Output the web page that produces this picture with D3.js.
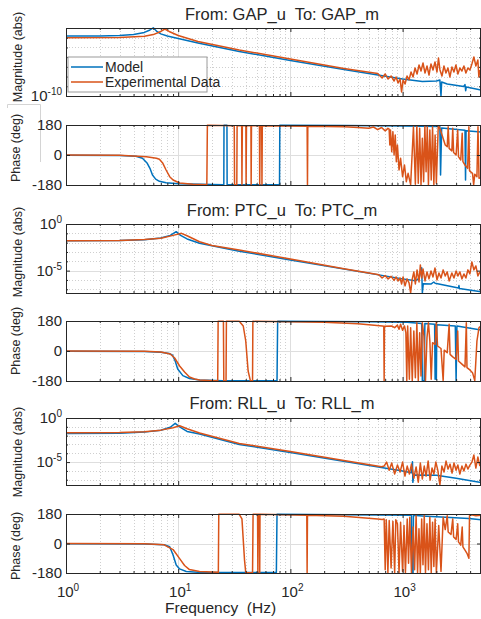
<!DOCTYPE html>
<meta charset="utf-8">
<style>
body { margin: 0; background: #fff; }
text { font-family: "Liberation Sans", Arial, sans-serif; fill: #262626; white-space: pre; }
</style>
<body>
<script src="https://d3js.org/d3.v7.min.js"></script>
<script>

// ---- data: [frequency (Hz), value] ----
var gapMagModel = [[1,1.5e-4],[2,1.5e-4],[3,1.7e-4],[4,2.1e-4],[5,3.5e-4],[5.6,6.3e-4],[6.0,1.05e-3],[6.4,4.9e-4],[7,2.5e-4],[8,1.5e-4],[10,8.3e-5],[15,2.9e-5],[35,3.8e-6],[100,4.6e-7],[300,5.4e-8],[1000,5.6e-9],[1500,3.1e-9],[2000,3.5e-9],[2150,4.5e-9],[2200,1e-10],[2230,2.8e-9],[2500,1.7e-9],[3500,9.5e-10],[3600,1.5e-9],[3650,3.5e-10],[3700,8.5e-10],[5000,4.2e-10]];
var gapMagExp = [[1,1.0e-4],[3,1.05e-4],[5,1.4e-4],[6,2.1e-4],[7,4.4e-4],[7.6,7.9e-4],[8.3,4.4e-4],[10,1.7e-4],[15,4.1e-5],[35,5.5e-6],[100,6.5e-7],[300,6.8e-8],[600,2.1e-8],
  [618,1.45e-8],[657,7.1e-9],[699,1.85e-8],[743,5.6e-9],[790,1.15e-8],[840,3.5e-9],[875,9.1e-9],[912,2.2e-9],[950,5.6e-9],[980,2.6e-10],[1010,4.5e-9],[1052,1.7e-9],[1096,1.15e-8],[1142,4.5e-9],[1190,2.95e-8],[1240,9.1e-9],[1292,7.6e-8],[1346,1.85e-8],[1402,1.55e-7],[1460,3.7e-8],[1521,2.5e-7],[1585,2.3e-8],[1651,1.23e-7],[1720,1.45e-8],[1792,2.0e-7],[1867,4.8e-8],[1945,3.2e-7],[2026,2.95e-8],[2089,8.1e-7],[2154,4.8e-8],[2244,1.15e-8],[2338,1.23e-7],[2436,2.3e-8],[2537,7.6e-8],[2643,9.1e-9],[2754,9.8e-8],[2869,2.95e-8],[2989,1.55e-7],[3114,1.85e-8],[3244,7.6e-8],[3380,3.7e-8],[3521,1.23e-7],[3668,2.3e-8],[3821,7.6e-8],[3981,4.8e-8],[4147,2.0e-7],[4320,1.05e-6],[4501,1.23e-7],[4689,5.1e-7],[4786,9.1e-9],[4885,4.8e-8]];

var gapPhModel = [[1,-1],[3,-3],[4.2,-8],[4.8,-20],[5.3,-50],[5.6,-80],[5.9,-120],[6.3,-145],[6.8,-158],[7.8,-167],[10,-173],[20,-177],[25.5,-178],[25.6,179],[27.2,179],[27.3,-179],[80,-179],[80.5,179],[300,177],[1000,174],[2150,171],[2180,-120],[2230,162],[3600,148],[3640,-150],[3680,146],[5000,138]];
var gapPhExp = [[1,0],[3,-2],[5.2,-10],[6.4,-20],[6.8,-26],[7.3,-50],[7.8,-90],[8.4,-130],[9,-150],[10.3,-168],[13.5,-176],[18,-178],[18.2,179],[31.6,176],[31.8,-179],[33.3,-179],[33.5,176],[36.8,176],[37,-178],[37.3,176],[40.1,176],[40.3,-178],[40.6,176],[44.5,176],[44.7,-178],[45,176],[53,176],[53.3,-178],[53.8,176],[55.5,176],[55.8,-178],[56.2,176],[141,172],[142,-178],[143,172],
  [300,170],[400,165],[500,160],[550,168],[600,152],[650,165],[700,145],[740,160],
  [759,155],[770,60],[780,150],[800,20],[820,140],[840,0],[860,120],[880,-40],[900,60],[930,-90],[960,-20],[1000,-130],[1040,-60],[1080,-160],[1120,-110],[1180,-178],
  [1250,170],[1300,-175],[1340,175],[1380,-170],[1420,160],[1460,-178],[1500,100],[1540,-160],[1580,175],[1620,-100],[1660,170],[1700,-178],[1750,150],[1800,-150],[1850,170],[1900,-178],[1950,120],[2000,-170],[2080,175],[2150,160],
  [2400,60],[2500,50],[2550,170],[2600,40],[2750,25],[2800,160],[2850,15],[3000,0],[3100,150],[3150,-10],[3300,-30],[3400,130],[3450,-40],[3600,-60],[3800,-80],[3900,170],[3950,-95],[4200,-110],[4300,-178],[4400,-115],[4600,-130],[4700,170],[4800,-140],[5000,-135]];

var ptcMagModel = [[1,0.016],[3,0.017],[5,0.021],[7,0.032],[8.5,0.06],[9.6,0.15],[10.5,0.06],[12,0.025],[15.5,8.5e-3],[35,1.2e-3],[100,1.4e-4],[1000,1.3e-6],[1300,8e-7],[1400,1.5e-6],[1480,2e-5],[1500,4e-8],[1530,4e-7],[1800,3.7e-7],[1900,6e-7],[1950,4.5e-7],[3150,1.4e-7],[3180,2.5e-7],[3210,1.2e-7],[5000,5.5e-8]];
var ptcMagExp = [[1,0.016],[3,0.017],[5,0.022],[7,0.03],[9,0.06],[10.7,0.1],[12,0.055],[15.5,0.0126],[20,5e-3],[35,1.6e-3],[100,1.8e-4],[300,1.6e-5],[600,3.8e-6],
  [618,3.4e-6],[657,1.6e-6],[699,3e-6],[743,1.3e-6],[790,2.4e-6],[840,9e-7],[875,2.1e-6],[912,7.8e-7],[950,1.6e-6],[980,3.7e-7],[1010,2.1e-6],[1052,2.3e-7],[1096,1.3e-6],[1142,4.8e-7],[1180,4e-8],[1215,1e-6],[1260,7.2e-6],[1300,3.7e-7],[1346,1.2e-5],[1402,6.1e-7],[1440,4.1e-5],[1480,1.6e-6],[1521,1.5e-5],[1585,7.8e-7],[1651,7.2e-6],[1720,1.3e-6],[1792,9.1e-6],[1867,2.1e-6],[1945,1.9e-5],[2026,1e-6],[2110,5.6e-6],[2200,1.6e-6],[2300,1.2e-5],[2400,2.7e-6],[2500,7.2e-6],[2600,7.8e-7],[2750,5.6e-6],[2870,1.6e-6],[3000,9.1e-6],[3114,2.7e-6],[3244,7.2e-6],[3380,1.3e-6],[3521,4.4e-6],[3668,1.6e-6],[3821,1.2e-5],[3981,4.4e-6],[4147,8.5e-5],[4320,1.2e-5],[4501,3.2e-5],[4689,2.7e-6],[4885,7.2e-6]];

var ptcPhModel = [[1,-1],[5,-3],[7,-8],[8.3,-15],[8.9,-25],[9.4,-60],[9.9,-108],[11,-148],[12.6,-165],[15.5,-174],[25,-178],[76,-178],[77,179],[500,176],[1100,172],[1480,165],[1500,-178],[1560,-178],[1580,165],[1930,160],[1950,-170],[1980,160],[2000,-170],[2020,158],[2950,150],[3000,-178],[3050,150],[5000,126]];
var ptcPhExp = [[1,0],[5,-2],[7,-6],[8.5,-18],[9.3,-42],[10.3,-90],[11.4,-126],[12.6,-156],[14,-168],[15.5,-174],[21,-178],[22.5,-178],[22.7,178],[25.3,178],[25.5,-178],[26.7,-178],[26.9,178],[35,178],[38,150],[40,60],[42,-120],[44,-178],[46,-178],[46.3,178],[200,172],[400,164],[660,150],[680,148],[685,-178],[690,148],
  [800,150],[850,140],[900,155],[930,130],[960,160],[1000,125],[1040,150],[1070,110],[1090,-178],[1110,150],[1150,-170],[1180,140],[1220,-178],[1260,120],[1300,-160],[1340,170],[1380,-178],[1420,110],[1460,-150],[1500,170],[1550,90],[1600,-178],[1650,80],[1700,170],[1750,60],[1800,-170],[1850,50],[1950,40],[2000,175],[2050,30],[2200,15],[2300,-178],[2350,5],[2500,-10],[2600,160],[2650,-20],[2800,-35],[3000,-50],[3100,120],[3150,-60],[3400,-80],[3600,-95],[3700,170],[3750,-100],[4000,-115],[4200,-130],[4400,-178],[4600,60],[4800,140],[5000,150]];

var rllMagModel = [[1,0.018],[3,0.019],[5,0.025],[7,0.04],[8.5,0.09],[9.4,0.25],[10.3,0.1],[12,0.03],[15.5,0.015],[35,1.0e-3],[100,1.2e-4],[1000,9.5e-7],[1200,6e-7],[1225,1.1e-5],[1235,5e-8],[1260,3.4e-7],[2000,3.3e-7],[3000,1.5e-7],[5000,4.9e-8]];
var rllMagExp = [[1,0.021],[3,0.022],[5,0.028],[7,0.042],[9,0.08],[10.3,0.13],[12,0.06],[15.5,0.02],[35,1.3e-3],[100,1.6e-4],[300,1.5e-5],[650,3e-6],
  [685,3.5e-6],[720,1e-5],[760,1.2e-6],[800,7.7e-6],[850,4.4e-7],[900,4.6e-6],[950,7.3e-7],[1000,1e-5],[1050,2.6e-7],[1100,3.5e-6],[1150,4.4e-7],[1200,5.9e-6],[1260,1.5e-7],[1320,2.8e-6],[1380,5.3e-8],[1440,7.7e-6],[1500,1.2e-7],[1560,3.5e-6],[1620,2.6e-7],[1690,1.3e-5],[1760,9e-8],[1830,2.1e-6],[1900,4.4e-7],[1980,1e-5],[2060,1.2e-6],[2150,2.5e-8],[2240,3.5e-6],[2340,7.3e-7],[2440,1.3e-5],[2540,1.6e-6],[2650,5.9e-6],[2760,5.7e-7],[2870,7.7e-6],[3000,1.2e-6],[3110,4.6e-6],[3240,4.4e-7],[3380,3.5e-6],[3520,9.5e-7],[3670,5.9e-6],[3820,1.6e-6],[3980,4.6e-6],[4150,1e-5],[4320,6.3e-5],[4500,2.1e-6],[4690,3.7e-5],[4885,3.5e-6]];

var rllPhModel = [[1,-1],[5,-3],[7.5,-8],[8.4,-20],[9,-70],[9.6,-131],[10.3,-155],[11.8,-171],[15,-176],[75,-177],[76,179],[1200,172],[1210,-178],[1240,-178],[1250,172],[1500,168],[3900,152],[5000,145]];
var rllPhExp = [[1,0],[5,-2],[7.5,-8],[9,-37],[10.3,-92],[11.4,-134],[12.6,-159],[15.5,-171],[22.8,-176],[23,179],[35,178],[37,150],[39,-100],[40,-178],[46,-178],[46.5,179],[51,178],[51.3,-178],[51.6,178],[53,178],[53.3,-178],[53.6,178],[140,172],[141,-178],[142,172],[300,166],[600,150],[660,146],
  [685,150],[700,-160],[715,145],[740,-178],[760,140],[790,-150],[820,135],[850,-178],[870,145],[900,120],[930,-178],[960,130],[1000,-170],[1030,110],[1060,-178],[1100,150],[1130,-120],[1160,160],[1200,-178],[1240,100],[1280,-160],[1320,170],[1360,-178],[1400,90],[1440,-178],[1480,150],[1520,-130],[1560,170],[1600,-178],[1650,120],[1700,-160],[1750,160],[1800,-178],[1850,130],[1900,-140],[1950,150],[2000,-178],[2100,110],[2200,-170],[2300,160],[2400,85],[2500,170],[2550,70],[2700,55],[2800,150],[2850,40],[3000,25],[3100,120],[3150,10],[3300,-10],[3400,100],[3450,-20],[3600,-40],[3750,-60],[3900,-90],[3950,170],[4100,175],[4500,170],[5000,172]];

var phaseTicks = [-180, 0, 180];
var xLabelTicks = [1, 10, 100, 1000];
var seriesNames = ["Model", "Experimental Data"];
var colors = ["#0072BD", "#D95319"];

// ---- layout ----
var svg = d3.select("body").append("svg")
    .attr("width", 481)
    .attr("height", 619);

svg.append("rect").attr("width", "100%").attr("height", "100%").attr("fill", "#fff");

var x = d3.scaleLog().domain([1, 5000]).range([66, 481]);

var xMinor = [];
xLabelTicks.forEach(function(d) {
  for (var k = 2; k <= 9; k++) { if (d * k <= 5000) xMinor.push(d * k); }
});

var panels = [
  {kind: "mag", top: 28, bottom: 96, lo: 1e-10, hi: 1e-3, labels: [1e-10], model: gapMagModel, exp: gapMagExp,
   title: "From: GAP_u  To: GAP_m", titleY: 20, ylabY: 57},
  {kind: "phase", top: 125, bottom: 185, model: gapPhModel, exp: gapPhExp, ylabY: 148},
  {kind: "mag", top: 224, bottom: 293, lo: Math.pow(10, -7.4), hi: 1, labels: [1, 1e-5], model: ptcMagModel, exp: ptcMagExp,
   title: "From: PTC_u  To: PTC_m", titleY: 216, ylabY: 252},
  {kind: "phase", top: 321, bottom: 381, model: ptcPhModel, exp: ptcPhExp, ylabY: 341},
  {kind: "mag", top: 418, bottom: 485, lo: Math.pow(10, -7.6), hi: 1, labels: [1, 1e-5], model: rllMagModel, exp: rllMagExp,
   title: "From: RLL_u  To: RLL_m", titleY: 409, ylabY: 452},
  {kind: "phase", top: 514, bottom: 573, model: rllPhModel, exp: rllPhExp, ylabY: 546}
];

var axisColor = "#262626";

function pow10(sel, e, size) {
  sel.append("tspan").text("10");
  sel.append("tspan").attr("dy", -6).attr("font-size", size).text(e);
}

// odd leftover frame at top-left of the figure
svg.append("path")
  .attr("d", "M7.5,108V104.5H40.5V162")
  .attr("fill", "none").attr("stroke", "#d4d4d4");

panels.forEach(function(p, i) {
  var g = svg.append("g");
  var y;
  var yMajor, yMinor = [];
  if (p.kind == "mag") {
    y = d3.scaleLog().domain([p.lo, p.hi]).range([p.bottom, p.top]);
    yMajor = p.labels;
    d3.range(Math.ceil(Math.log10(p.lo)), Math.floor(Math.log10(p.hi)) + 1).forEach(function(e) {
      var v = Math.pow(10, e);
      if (p.labels.indexOf(v) < 0) yMinor.push(v);
    });
  } else {
    y = d3.scaleLinear().domain([-180, 180]).range([p.bottom, p.top]);
    yMajor = phaseTicks;
  }

  // grid
  g.selectAll(".vmin").data(xMinor).enter().append("line")
    .attr("x1", function(d) { return Math.round(x(d)) + 0.5; })
    .attr("x2", function(d) { return Math.round(x(d)) + 0.5; })
    .attr("y1", p.top).attr("y2", p.bottom)
    .attr("stroke", "#cfcfcf").attr("stroke-dasharray", "1,2");
  g.selectAll(".vmaj").data(xLabelTicks.slice(1)).enter().append("line")
    .attr("x1", function(d) { return Math.round(x(d)) + 0.5; })
    .attr("x2", function(d) { return Math.round(x(d)) + 0.5; })
    .attr("y1", p.top).attr("y2", p.bottom)
    .attr("stroke", "#dedede");
  g.selectAll(".hmin").data(yMinor).enter().append("line")
    .attr("x1", 66).attr("x2", 481)
    .attr("y1", function(d) { return Math.round(y(d)) + 0.5; })
    .attr("y2", function(d) { return Math.round(y(d)) + 0.5; })
    .attr("stroke", "#cfcfcf").attr("stroke-dasharray", "1,2");
  g.selectAll(".hmaj").data(yMajor).enter().append("line")
    .attr("x1", 66).attr("x2", 481)
    .attr("y1", function(d) { return Math.round(y(d)) + 0.5; })
    .attr("y2", function(d) { return Math.round(y(d)) + 0.5; })
    .attr("stroke", "#dedede");

  // lines
  var clipId = "clip" + i;
  svg.append("clipPath").attr("id", clipId).append("rect")
    .attr("x", 66).attr("y", p.top - 1).attr("width", 415).attr("height", p.bottom - p.top + 2);
  var line = d3.line()
    .x(function(d) { return x(d[0]); })
    .y(function(d) { return y(d[1]); });
  g.selectAll(".series").data([p.model, p.exp]).enter().append("path")
    .attr("clip-path", "url(#" + clipId + ")")
    .attr("d", function(d) { return line(d); })
    .attr("fill", "none")
    .attr("stroke", function(d, j) { return colors[j]; })
    .attr("stroke-width", 1.5)
    .attr("stroke-linejoin", "round");

  // frame + ticks
  var axes = [
    [d3.axisBottom(x).tickValues(xLabelTicks), "translate(0," + p.bottom + ")", 4],
    [d3.axisBottom(x).tickValues(xMinor), "translate(0," + p.bottom + ")", 2],
    [d3.axisTop(x).tickValues(xLabelTicks), "translate(0," + p.top + ")", 4],
    [d3.axisTop(x).tickValues(xMinor), "translate(0," + p.top + ")", 2],
    [d3.axisLeft(y).tickValues(yMajor), "translate(66,0)", 4],
    [d3.axisLeft(y).tickValues(yMinor), "translate(66,0)", 2],
    [d3.axisRight(y).tickValues(yMajor), "translate(481,0)", 4],
    [d3.axisRight(y).tickValues(yMinor), "translate(481,0)", 2]
  ];
  axes.forEach(function(a) {
    var ag = g.append("g").attr("transform", a[1])
      .call(a[0].tickSize(-a[2]).tickFormat(""));
    ag.select(".domain").remove();
    ag.selectAll("line").attr("stroke", axisColor);
  });
  g.append("rect")
    .attr("x", 66.5).attr("y", p.top + 0.5)
    .attr("width", 414).attr("height", p.bottom - p.top)
    .attr("fill", "none").attr("stroke", axisColor).attr("stroke-width", 1);

  // y tick labels
  g.selectAll(".ylab").data(yMajor).enter().append("text")
    .attr("x", 62)
    .attr("y", function(d) { return y(d) + 5; })
    .attr("text-anchor", "end")
    .attr("font-size", 15)
    .each(function(d) {
      if (p.kind == "mag") pow10(d3.select(this), String(Math.round(Math.log10(d))), 10);
      else d3.select(this).text(d);
    });

  // axis title
  g.append("text")
    .attr("transform", "translate(" + (p.kind == "mag" ? 22 : 20) + "," + p.ylabY + ") rotate(-90)")
    .attr("text-anchor", "middle")
    .attr("font-size", 12.5)
    .text(p.kind == "mag" ? "Magnitude (abs)" : "Phase (deg)");

  if (p.title) {
    g.append("text")
      .attr("x", 282).attr("y", p.titleY)
      .attr("text-anchor", "middle")
      .attr("font-size", 16.5)
      .text(p.title);
  }
});

// x tick labels and label
svg.selectAll(".xlab").data(xLabelTicks).enter().append("text")
  .attr("x", function(d) { return x(d) + 2; })
  .attr("y", 597)
  .attr("text-anchor", "middle")
  .attr("font-size", 15)
  .each(function(d) { pow10(d3.select(this), String(Math.round(Math.log10(d))), 10); });

svg.append("text")
  .attr("x", 165).attr("y", 613)
  .attr("font-size", 15.5)
  .text("Frequency  (Hz)");

// legend
var leg = svg.append("g");
leg.append("rect")
  .attr("x", 68).attr("y", 57).attr("width", 139).attr("height", 35)
  .attr("fill", "#fff").attr("stroke", "#9a9a9a");
leg.selectAll(".li").data(seriesNames).enter().append("line")
  .attr("x1", 71).attr("x2", 103)
  .attr("y1", function(d, i) { return 67 + i * 15; })
  .attr("y2", function(d, i) { return 67 + i * 15; })
  .attr("stroke", function(d, i) { return colors[i]; })
  .attr("stroke-width", 1.5);
leg.selectAll(".lt").data(seriesNames).enter().append("text")
  .attr("x", 105)
  .attr("y", function(d, i) { return 72 + i * 15; })
  .attr("font-size", 14)
  .text(function(d) { return d; });

</script>
</body>
